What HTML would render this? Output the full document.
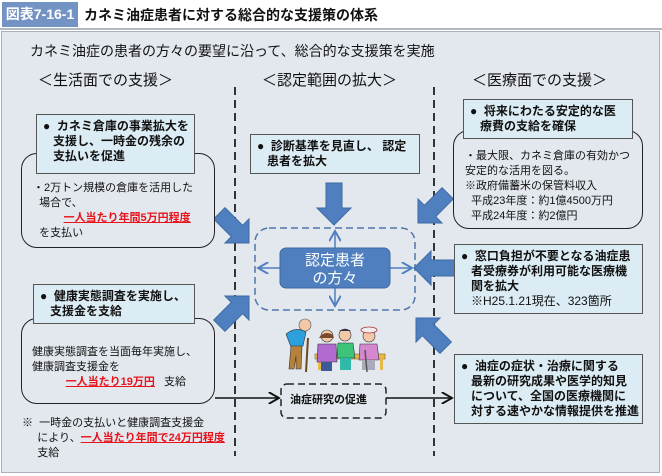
<!DOCTYPE html>
<html><head><meta charset="utf-8"><style>
*{margin:0;padding:0;box-sizing:border-box}
body{width:662px;height:476px;background:#fff;position:relative;overflow:hidden;font-family:"Liberation Sans","Noto Sans CJK JP",sans-serif;color:#111}
.a{position:absolute}
.lbl{position:absolute;background:#dcecf4;border:1px solid #555;font-weight:bold;font-size:12px;line-height:15px;padding:4px 6px;white-space:nowrap}
.rb{position:absolute;border:1.5px solid #222;border-radius:16px;background:#e3e8ef}
.t{position:absolute;font-size:11px;line-height:15px;white-space:nowrap}
.red{color:#e8141c;font-weight:bold;text-decoration:underline}
</style></head><body>
<div class="a" style="left:0;top:0;width:662px;height:30px;border-bottom:2px solid #b0b8c4"></div>
<div class="a" style="left:2px;top:2px;width:76px;height:25px;background:#7393c4;color:#fff;font-weight:bold;font-size:14px;line-height:25px;text-align:center">図表7-16-1</div>
<div class="a" style="left:84px;top:4px;font-weight:bold;font-size:14px;line-height:22px">カネミ油症患者に対する総合的な支援策の体系</div>
<div class="a" style="left:1px;top:31px;width:659px;height:442px;background:#e3e8ef;border:1.5px solid #a9b0ba"></div>
<div class="a" style="left:30px;top:41px;font-size:14px;line-height:20px">カネミ油症の患者の方々の要望に沿って、総合的な支援策を実施</div>
<div class="a" style="left:38px;top:71px;font-size:15px;line-height:20px">＜生活面での支援＞</div>
<div class="a" style="left:262px;top:71px;font-size:15px;line-height:20px">＜認定範囲の拡大＞</div>
<div class="a" style="left:472px;top:71px;font-size:15px;line-height:20px">＜医療面での支援＞</div>

<svg class="a" style="left:0;top:0" width="662" height="476">
<defs><marker id="m" markerWidth="8" markerHeight="8" refX="7" refY="4" orient="auto"><path d="M0,0 L7,4 L0,8" fill="none" stroke="#111" stroke-width="1.3"/></marker>
<marker id="mb" markerWidth="8" markerHeight="8" refX="7" refY="4" orient="auto"><path d="M0,0 L7,4 L0,8" fill="none" stroke="#4f7fbf" stroke-width="1.3"/></marker>
<polygon id="ar" points="-42,-8 -17,-8 -17,-17 0,0 -17,17 -17,8 -42,8"/></defs>
<line x1="235" y1="87" x2="235" y2="456" stroke="#333" stroke-width="2" stroke-dasharray="8,5"/>
<line x1="434" y1="87" x2="434" y2="456" stroke="#333" stroke-width="2" stroke-dasharray="8,5"/>
<rect x="255" y="228" width="160" height="82" rx="14" fill="none" stroke="#4f77aa" stroke-width="1.5" stroke-dasharray="7,4"/>
<g stroke="#4f7fbf" stroke-width="1.5" marker-end="url(#mb)">
<line x1="335" y1="248" x2="335" y2="231"/><line x1="335" y1="288" x2="335" y2="306"/>
<line x1="280" y1="268" x2="258" y2="268"/><line x1="390" y1="268" x2="412" y2="268"/></g>
<rect x="280" y="248" width="110" height="40" rx="6" fill="#4f7fbf" stroke="#3d6aa3"/>
<text x="335" y="265" fill="#fff" font-size="15" text-anchor="middle" font-family="Liberation Sans,Noto Sans CJK JP,sans-serif">認定患者</text>
<text x="335" y="283" fill="#fff" font-size="15" text-anchor="middle" font-family="Liberation Sans,Noto Sans CJK JP,sans-serif">の方々</text>
<g fill="#4f7fbf" stroke="#3d6aa3" stroke-width="1">
<use href="#ar" transform="translate(334,225) rotate(90)"/>
<use href="#ar" transform="translate(249,243) rotate(45)"/>
<use href="#ar" transform="translate(249,296) rotate(-45)"/>
<use href="#ar" transform="translate(418,223) rotate(135)"/>
<use href="#ar" transform="translate(414,268) rotate(180)"/>
<use href="#ar" transform="translate(416,318) rotate(225)"/>
</g>
<rect x="281" y="384" width="105" height="34" rx="6" fill="none" stroke="#222" stroke-width="1.5" stroke-dasharray="7,4"/>
<line x1="215" y1="398" x2="279" y2="398" stroke="#111" stroke-width="1.5" marker-end="url(#m)"/>
<line x1="386" y1="398" x2="452" y2="398" stroke="#111" stroke-width="1.5" marker-end="url(#m)"/>
<!-- people -->
<rect x="315" y="354" width="70" height="5" fill="#e8b84a" stroke="#8a6a20" stroke-width=".6"/>
<rect x="318" y="358" width="3" height="12" fill="#e8b84a"/><rect x="380" y="358" width="3" height="12" fill="#e8b84a"/>
<circle cx="305" cy="325" r="6" fill="#f2c8a8" stroke="#555" stroke-width=".6"/>
<path d="M286,334 Q296,326 306,332 L303,346 L291,347 Z" fill="#2ba0dc" stroke="#333" stroke-width=".6"/>
<path d="M291,346 L302,346 L301,369 L296,369 L296,356 L294,369 L289,369 Z" fill="#b5823c" stroke="#333" stroke-width=".6"/>
<line x1="308" y1="338" x2="306" y2="372" stroke="#6b4a20" stroke-width="2"/>
<circle cx="327" cy="336" r="6" fill="#f2c8a8" stroke="#333" stroke-width=".6"/>
<path d="M319,338 Q322,333 327,333 Q333,333 334,338" fill="#7a4a2a"/>
<path d="M318,344 L336,344 L337,362 L317,362 Z" fill="#b06ad0" stroke="#333" stroke-width=".6"/>
<rect x="321" y="362" width="11" height="9" fill="#3a5a9a"/>
<circle cx="345" cy="335" r="6" fill="#f2c8a8" stroke="#333" stroke-width=".6"/>
<path d="M339,331 Q345,327 351,331" fill="#334" />
<path d="M338,343 L353,343 L355,358 L337,358 Z" fill="#3cc47a" stroke="#333" stroke-width=".6"/>
<rect x="340" y="358" width="11" height="12" fill="#30b8a8"/>
<circle cx="369" cy="336" r="6" fill="#f2c8a8" stroke="#333" stroke-width=".6"/>
<ellipse cx="369" cy="330" rx="8" ry="3" fill="#eee" stroke="#a33" stroke-width=".8"/>
<path d="M360,344 L377,344 L379,360 L359,360 Z" fill="#d488d0" stroke="#333" stroke-width=".6"/>
<rect x="362" y="360" width="13" height="10" fill="#aab"/>
<line x1="365" y1="350" x2="367" y2="372" stroke="#555" stroke-width="1.5"/>
</svg>

<!-- left top -->
<div class="rb" style="left:21px;top:153px;width:194px;height:95px"></div>
<div class="lbl" style="left:36px;top:114px;width:159px;height:60px">●&nbsp; カネミ倉庫の事業拡大を<br>&nbsp;&nbsp;&nbsp;支援し、一時金の残余の<br>&nbsp;&nbsp;&nbsp;支払いを促進</div>
<div class="t" style="left:33px;top:181px">・2万トン規模の倉庫を活用した<br>&nbsp;&nbsp;場合で、<br>&nbsp;&nbsp;&nbsp;&nbsp;&nbsp;&nbsp;&nbsp;&nbsp;&nbsp;&nbsp;<span class="red">一人当たり年間5万円程度</span><br>&nbsp;&nbsp;を支払い</div>

<!-- left bottom -->
<div class="rb" style="left:21px;top:318px;width:194px;height:86px"></div>
<div class="lbl" style="left:33px;top:284px;width:162px;height:40px">●&nbsp; 健康実態調査を実施し、<br>&nbsp;&nbsp;&nbsp;支援金を支給</div>
<div class="t" style="left:32px;top:345px">健康実態調査を当面毎年実施し、<br>健康調査支援金を<br>&nbsp;&nbsp;&nbsp;&nbsp;&nbsp;&nbsp;&nbsp;&nbsp;&nbsp;&nbsp;&nbsp;<span class="red">一人当たり19万円</span>&nbsp;&nbsp;&nbsp;支給</div>
<div class="t" style="left:22px;top:416px">※&nbsp;&nbsp;一時金の支払いと健康調査支援金<br>&nbsp;&nbsp;&nbsp;&nbsp;&nbsp;により、<span class="red">一人当たり年間で24万円程度</span><br>&nbsp;&nbsp;&nbsp;&nbsp;&nbsp;支給</div>

<!-- center -->
<div class="lbl" style="left:250px;top:134px;width:170px;height:40px">●&nbsp; 診断基準を見直し、 認定<br>&nbsp;&nbsp;&nbsp;患者を拡大</div>
<div class="t" style="left:290px;top:393px;font-weight:bold;font-size:11px">油症研究の促進</div>

<!-- right top -->
<div class="rb" style="left:453px;top:130px;width:190px;height:99px"></div>
<div class="lbl" style="left:463px;top:99px;width:170px;height:40px">●&nbsp; 将来にわたる安定的な医<br>&nbsp;&nbsp;&nbsp;療費の支給を確保</div>
<div class="t" style="left:465px;top:149px">・最大限、カネミ倉庫の有効かつ<br>安定的な活用を図る。<br>※政府備蓄米の保管料収入<br>&nbsp;&nbsp;平成23年度：約1億4500万円<br>&nbsp;&nbsp;平成24年度：約2億円</div>

<div class="lbl" style="left:454px;top:244px;width:189px;height:70px">●&nbsp; 窓口負担が不要となる油症患<br>&nbsp;&nbsp;&nbsp;者受療券が利用可能な医療機<br>&nbsp;&nbsp;&nbsp;関を拡大<br><span style="font-weight:normal">&nbsp;&nbsp;&nbsp;※H25.1.21現在、323箇所</span></div>
<div class="lbl" style="left:454px;top:354px;width:189px;height:70px">●&nbsp; 油症の症状・治療に関する<br>&nbsp;&nbsp;&nbsp;最新の研究成果や医学的知見<br>&nbsp;&nbsp;&nbsp;について、全国の医療機関に<br>&nbsp;&nbsp;&nbsp;対する速やかな情報提供を推進</div>
</body></html>
